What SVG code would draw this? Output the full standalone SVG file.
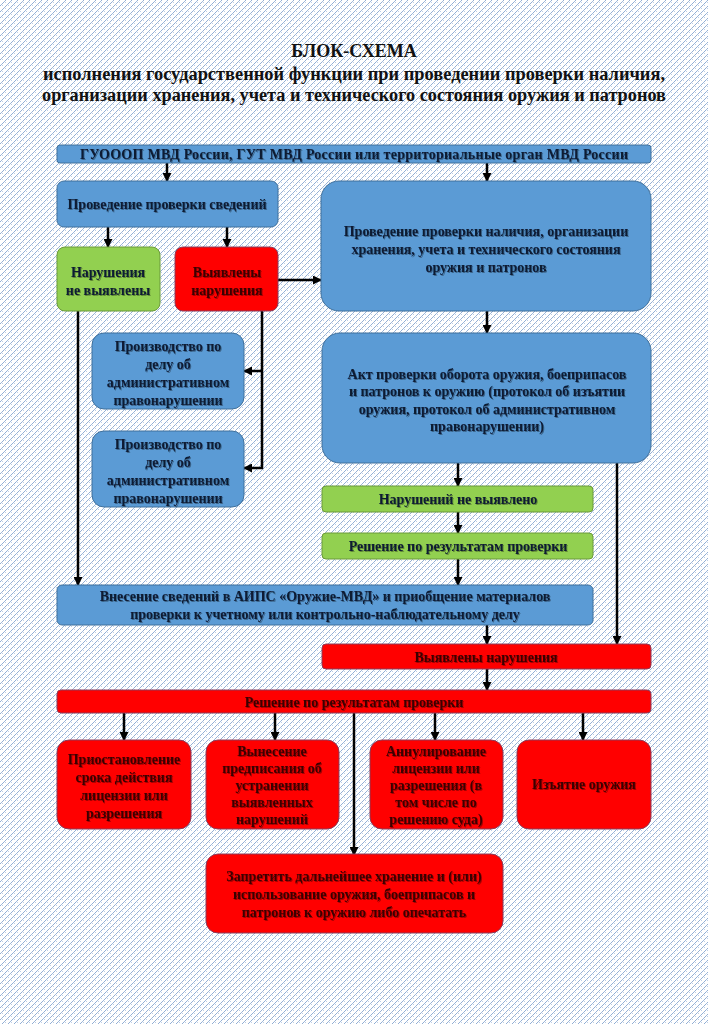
<svg xmlns="http://www.w3.org/2000/svg" width="708" height="1024" viewBox="0 0 708 1024">
<defs>
<pattern id="bgp" width="6" height="6" patternUnits="userSpaceOnUse">
<rect width="6" height="6" fill="#ffffff"/>
<path d="M0,6 L6,0 M-1,1 L1,-1 M5,7 L7,5" stroke="#93afd4" stroke-width="1"/>
<path d="M1.5,4.5 L3.5,6.5 M4.5,1.5 L6.5,3.5" stroke="#b4c8e3" stroke-width="0.9"/>
</pattern>
<marker id="arr" markerUnits="userSpaceOnUse" markerWidth="9" markerHeight="9" refX="8" refY="4.5" orient="auto">
<path d="M0,0 L9,4.5 L0,9 z" fill="#000"/>
</marker>
<filter id="sh" x="-5%" y="-20%" width="110%" height="140%">
<feDropShadow dx="1" dy="1" stdDeviation="0.7" flood-color="#000" flood-opacity="0.35"/>
</filter>
</defs>
<style>
.t{font-family:"Liberation Serif","Times New Roman",serif;font-weight:bold;text-anchor:middle;}
.ttl{font-size:18px;fill:#111;}
.tx{font-size:14px;fill:#0b1a33;filter:url(#sh);}
.txr{font-size:14px;fill:#3a0000;filter:url(#sh);}
.blue{fill:#5b9bd5;stroke:#41719c;stroke-width:1;}
.green{fill:#92d050;stroke:#6b9a3a;stroke-width:1;}
.red{fill:#ff0000;stroke:#8a3c5a;stroke-width:1;}
.ca{fill:none;stroke:#000;stroke-width:2.5;marker-end:url(#arr);}
</style>
<rect width="708" height="1024" fill="url(#bgp)"/>

<g id="title">
<text class="t ttl" x="354" y="57">БЛОК-СХЕМА</text>
<text class="t ttl" x="354" y="80" textLength="622" lengthAdjust="spacingAndGlyphs">исполнения государственной функции при проведении проверки наличия,</text>
<text class="t ttl" x="354" y="101" textLength="624" lengthAdjust="spacingAndGlyphs">организации хранения, учета и технического состояния оружия и патронов</text>
</g>

<g id="connectors">
<path class="ca" d="M167,163 V181"/>
<path class="ca" d="M487,163 V181"/>
<path class="ca" d="M108,227 V247"/>
<path class="ca" d="M227,227 V247"/>
<path class="ca" d="M278,280 H321"/>
<path class="ca" d="M78,311 V585"/>
<path class="ca" d="M262,311 V468 H244"/>
<path class="ca" d="M262,371 H244"/>
<path class="ca" d="M487,311 V333"/>
<path class="ca" d="M458,463 V486"/>
<path class="ca" d="M458,512 V533"/>
<path class="ca" d="M458,559 V585"/>
<path class="ca" d="M617,463 V644"/>
<path class="ca" d="M487,625 V644"/>
<path class="ca" d="M487,669 V690"/>
<path class="ca" d="M124,713 V740"/>
<path class="ca" d="M275,713 V740"/>
<path class="ca" d="M435,713 V740"/>
<path class="ca" d="M583,713 V740"/>
<path class="ca" d="M354,713 V855"/>
</g>

<g id="n-gu">
<rect class="blue" x="57" y="145" width="594" height="18" rx="3"/>
<text class="t tx" x="354" y="159" textLength="548">ГУОООП МВД России, ГУТ МВД России или территориальные орган МВД России</text>
</g>

<g id="n-sved">
<rect class="blue" x="57" y="181" width="221" height="46" rx="7"/>
<text class="t tx" x="167" y="209">Проведение проверки сведений</text>
</g>

<g id="n-main">
<rect class="blue" x="321" y="181" width="330" height="130" rx="18"/>
<text class="t tx" x="486" y="236">Проведение проверки наличия, организации</text>
<text class="t tx" x="486" y="254">хранения, учета и технического состояния</text>
<text class="t tx" x="486" y="272">оружия и патронов</text>
</g>

<g id="n-notfound">
<rect class="green" x="57" y="247" width="103" height="64" rx="8"/>
<text class="t tx" x="108" y="277">Нарушения</text>
<text class="t tx" x="108" y="295">не выявлены</text>
</g>

<g id="n-found">
<rect class="red" x="175" y="247" width="103" height="64" rx="8"/>
<text class="t txr" x="227" y="277">Выявлены</text>
<text class="t txr" x="227" y="295">нарушения</text>
</g>

<g id="n-adm1">
<rect class="blue" x="92" y="333" width="152" height="76" rx="12"/>
<text class="t tx" x="168" y="351">Производство по</text>
<text class="t tx" x="168" y="369">делу об</text>
<text class="t tx" x="168" y="387">административном</text>
<text class="t tx" x="168" y="405">правонарушении</text>
</g>

<g id="n-adm2">
<rect class="blue" x="92" y="431" width="152" height="76" rx="12"/>
<text class="t tx" x="168" y="449">Производство по</text>
<text class="t tx" x="168" y="467">делу об</text>
<text class="t tx" x="168" y="485">административном</text>
<text class="t tx" x="168" y="503">правонарушении</text>
</g>

<g id="n-akt">
<rect class="blue" x="322" y="333" width="329" height="130" rx="18"/>
<text class="t tx" x="487" y="379">Акт проверки оборота оружия, боеприпасов</text>
<text class="t tx" x="487" y="396">и патронов к оружию (протокол об изъятии</text>
<text class="t tx" x="487" y="414">оружия, протокол об административном</text>
<text class="t tx" x="487" y="431">правонарушении)</text>
</g>

<g id="n-ok">
<rect class="green" x="322" y="486" width="271" height="26" rx="4"/>
<text class="t tx" x="458" y="504">Нарушений не выявлено</text>
</g>

<g id="n-ok-dec">
<rect class="green" x="322" y="533" width="271" height="26" rx="4"/>
<text class="t tx" x="458" y="551">Решение по результатам проверки</text>
</g>

<g id="n-aips">
<rect class="blue" x="57" y="585" width="536" height="40" rx="5"/>
<text class="t tx" x="325" y="601">Внесение сведений в АИПС «Оружие-МВД» и приобщение материалов</text>
<text class="t tx" x="325" y="619">проверки к учетному или контрольно-наблюдательному делу</text>
</g>

<g id="n-viol">
<rect class="red" x="322" y="644" width="329" height="25" rx="4"/>
<text class="t txr" x="486" y="662">Выявлены нарушения</text>
</g>

<g id="n-dec">
<rect class="red" x="57" y="690" width="594" height="23" rx="4"/>
<text class="t txr" x="354" y="707">Решение по результатам проверки</text>
</g>

<g id="n-susp">
<rect class="red" x="57" y="740" width="134" height="89" rx="12"/>
<text class="t txr" x="124" y="764">Приостановление</text>
<text class="t txr" x="124" y="782">срока действия</text>
<text class="t txr" x="124" y="800">лицензии или</text>
<text class="t txr" x="124" y="818">разрешения</text>
</g>

<g id="n-presc">
<rect class="red" x="206" y="740" width="133" height="89" rx="12"/>
<text class="t txr" x="272" y="756">Вынесение</text>
<text class="t txr" x="272" y="773">предписания об</text>
<text class="t txr" x="272" y="790">устранении</text>
<text class="t txr" x="272" y="807">выявленных</text>
<text class="t txr" x="272" y="824">нарушений</text>
</g>

<g id="n-annul">
<rect class="red" x="370" y="740" width="133" height="89" rx="12"/>
<text class="t txr" x="436" y="756">Аннулирование</text>
<text class="t txr" x="436" y="773">лицензии или</text>
<text class="t txr" x="436" y="790">разрешения (в</text>
<text class="t txr" x="436" y="807">том числе по</text>
<text class="t txr" x="436" y="824">решению суда)</text>
</g>

<g id="n-seize">
<rect class="red" x="517" y="740" width="134" height="89" rx="12"/>
<text class="t txr" x="584" y="789">Изъятие оружия</text>
</g>

<g id="n-ban">
<rect class="red" x="206" y="854" width="297" height="79" rx="12"/>
<text class="t txr" x="354" y="881">Запретить дальнейшее хранение и (или)</text>
<text class="t txr" x="354" y="899">использование оружия, боеприпасов и</text>
<text class="t txr" x="354" y="917">патронов к оружию либо опечатать</text>
</g>
</svg>
